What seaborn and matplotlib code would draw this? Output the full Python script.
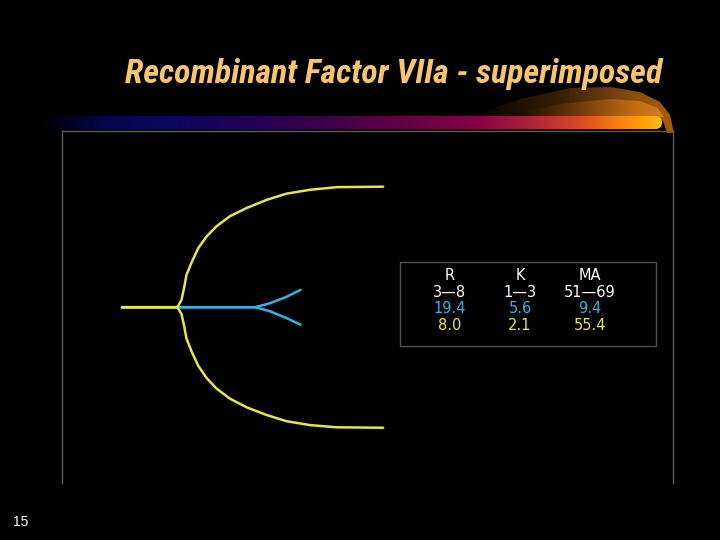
import numpy as np
import matplotlib.pyplot as plt
import seaborn as sns
from matplotlib import font_manager as fm
from matplotlib.patches import Rectangle, FancyBboxPatch, Polygon
from matplotlib.colors import LinearSegmentedColormap

# TEG trace: time (min) vs half-amplitude (mm)
yellow_t = [0, 7.9, 8.5, 8.9, 9.2, 10.0, 10.9, 12.1, 13.5, 15.4, 17.8, 20.7, 23.5, 26.9, 30.7, 37.3]
yellow_up = [0, 0, 1.7, 4.7, 7.4, 10.5, 13.6, 16.3, 18.6, 20.9, 22.8, 24.7, 26.1, 27.0, 27.6, 27.7]
yellow_lo = [0, 0, -1.6, -4.5, -7.2, -10.4, -13.5, -16.3, -18.7, -21.0, -23.0, -24.8, -26.2, -27.1, -27.6, -27.7]
blue_t = [0, 19.0, 21.1, 23.5, 25.5]
blue_up = [0, 0, 0.9, 2.4, 4.0]
blue_lo = [0, 0, -0.9, -2.5, -4.0]

# table on the slide
params = ["R", "K", "MA"]
normal_range = ["3—8", "1—3", "51—69"]
blue_vals = ["19.4", "5.6", "9.4"]
yellow_vals = ["8.0", "2.1", "55.4"]

YELLOW = "#e6e645"
BLUE = "#35b2e0"

sns.set_style("dark")
plt.rcParams['font.family'] = ['DejaVu Sans']

# pick a narrow face for the title if one is installed
installed = {(f.name, f.stretch) for f in fm.fontManager.ttflist}
names = {n for n, s in installed}
title_family, title_stretch = "DejaVu Sans", "normal"
for cand in ["Liberation Sans Narrow", "Roboto Condensed", "Open Sans Condensed"]:
    if cand in names:
        title_family = cand
        break
else:
    for n, s in installed:
        if n in ("DejaVu Sans", "Roboto", "Open Sans", "Noto Sans") and s in ("condensed", "semi-condensed", 500, 300, 400):
            title_family, title_stretch = n, s
            break

fig = plt.figure(figsize=(7.2, 5.4), dpi=100, facecolor="black")

# background layer in pixel coordinates (title bar decoration, table, page no.)
bg = fig.add_axes([0, 0, 1, 1], zorder=0)
bg.set_xlim(0, 720)
bg.set_ylim(540, 0)
bg.axis("off")
bg.set_facecolor("black")

# swoosh above the bar
swoosh_cmap = LinearSegmentedColormap.from_list(
    "sw", [(0, "#000000"), (0.45, "#3a2006"), (0.8, "#8a4c10"), (1, "#a85e12")])
grad = np.linspace(0, 1, 256).reshape(1, -1)
outer = Polygon([(470, 117), (520, 99), (570, 88), (610, 87), (640, 92), (660, 102),
                 (670, 115), (674, 133), (667, 133), (663, 121), (655, 117)],
                closed=True, facecolor="none", edgecolor="none")
bg.add_patch(outer)
im = bg.imshow(grad, cmap=swoosh_cmap, extent=(470, 675, 134, 86), aspect="auto", zorder=1)
im.set_clip_path(outer)

inner_cmap = LinearSegmentedColormap.from_list(
    "in", [(0, "#000000"), (0.4, "#5a3008"), (0.8, "#c06a14"), (1, "#d87c18")])
inner = Polygon([(500, 117), (560, 104), (610, 99), (640, 101), (658, 108), (664, 117)],
                closed=True, facecolor="none", edgecolor="none")
bg.add_patch(inner)
im2 = bg.imshow(grad, cmap=inner_cmap, extent=(500, 665, 118, 98), aspect="auto", zorder=2)
im2.set_clip_path(inner)

# gradient bar
bar_cmap = LinearSegmentedColormap.from_list(
    "bar", [(0, "#000000"), (0.1, "#06064a"), (0.2, "#0a0660"), (0.32, "#200058"),
            (0.47, "#400048"), (0.7, "#850045"), (0.8, "#b02838"), (0.88, "#e05020"),
            (0.93, "#f88010"), (0.97, "#ffa000"), (1, "#ffb818")])
bar_clip = FancyBboxPatch((40, 116), 622, 13, boxstyle="round,pad=0,rounding_size=6.5",
                          facecolor="none", edgecolor="none")
bg.add_patch(bar_clip)
im3 = bg.imshow(grad, cmap=bar_cmap, extent=(40, 662, 129, 116), aspect="auto", zorder=3)
im3.set_clip_path(bar_clip)

# title, sized so it spans the same width as on the slide
title = fig.text(394 / 720, 1 - 83 / 540, "Recombinant Factor VIIa - superimposed",
                 ha="center", va="baseline", color="#f8c66a", fontsize=27,
                 fontweight="bold", fontstyle="italic",
                 family=title_family, fontstretch=title_stretch)
fig.canvas.draw()
w = title.get_window_extent().width
title.set_fontsize(27 * 538 / w)

# page number
fig.text(21 / 720, 1 - 522 / 540, "15", ha="center", va="center", color="white",
         fontsize=10, family=["Liberation Sans", "DejaVu Sans"])

# value table
bg.add_patch(Rectangle((400, 262), 256, 84, facecolor="none", edgecolor="#505050", lw=1))
col_x = [450, 520, 590]
rows = [(params, "white", 276), (normal_range, "white", 292.5),
        (blue_vals, BLUE, 308.5), (yellow_vals, YELLOW, 326)]
for labels, color, y in rows:
    for x, lab in zip(col_x, labels):
        bg.text(x, y, lab, ha="center", va="center", color=color, fontsize=10.5)

# TEG trace
ax = fig.add_axes([62 / 720, 57 / 540, 611 / 720, 352 / 540], zorder=2)
ax.set_facecolor("none")
for ys in (blue_up, blue_lo):
    sns.lineplot(x=blue_t, y=ys, ax=ax, color=BLUE, lw=1.8, sort=False, estimator=None)
for ys in (yellow_up, yellow_lo):
    sns.lineplot(x=yellow_t, y=ys, ax=ax, color=YELLOW, lw=1.8, sort=False, estimator=None)

ax.set_xlim(-8.57, 78.7)
ax.set_ylim(-40.4, 40.5)
ax.set_xticks([])
ax.set_yticks([])
ax.set_xlabel("")
ax.set_ylabel("")
for side in ("left", "top", "right"):
    ax.spines[side].set_visible(True)
    ax.spines[side].set_color("#5a5a5a")
    ax.spines[side].set_linewidth(1)
ax.spines["bottom"].set_visible(False)

fig.savefig("out.png", dpi=100, facecolor="black")
